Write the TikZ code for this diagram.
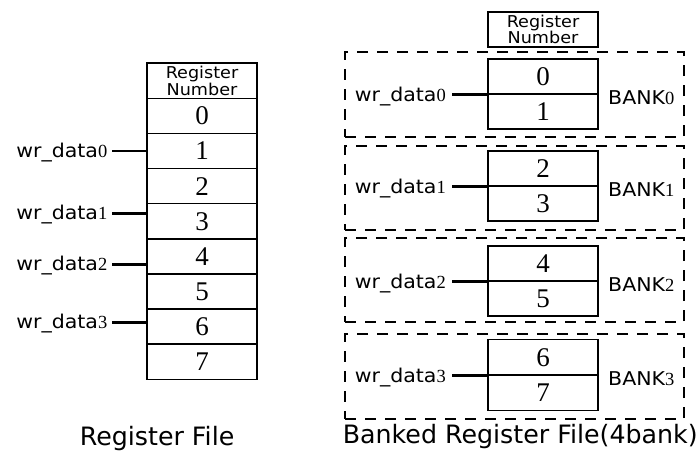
\documentclass[tikz,border=0pt]{standalone}
\usepackage{fontspec}
\setmainfont{Liberation Serif}
\newfontfamily\labf[FakeStretch=1.08]{DejaVu Sans}
\newfontfamily\titf{DejaVu Sans}
\newcommand{\wrlab}[1]{{\labf\fontsize{19}{21}\selectfont wr\_data}{\rmfamily\fontsize{18.5}{21}\selectfont #1}}
\newcommand{\banklab}[1]{{\labf\fontsize{19}{21}\selectfont BANK}{\rmfamily\fontsize{18.5}{21}\selectfont #1}}
\begin{document}
\begin{tikzpicture}[x=1pt,y=-1pt,
  cellbox/.style={draw, line width=1.5pt, minimum width=110pt, inner sep=0pt, font=\rmfamily\fontsize{27}{30}\selectfont},
  hdrbox/.style={draw, line width=1.5pt, minimum width=110pt, inner sep=0pt, align=center, font=\labf\fontsize{16.3}{15.5}\selectfont},
  bankbox/.style={draw, line width=1.5pt, dash pattern=on 11pt off 9pt, minimum width=339pt, minimum height=85pt, inner sep=0pt},
  lab/.style={inner sep=0pt},
  conn/.style={line width=2.8pt},
  ttl/.style={inner sep=0pt, font=\titf\fontsize{25.3}{28}\selectfont}]
\useasboundingbox (0,0) rectangle (697,451);
% ---------- left: register file ----------
\node[hdrbox, minimum height=35.3pt] (hL) at (202,80.65) {Register\\Number};
\foreach \i/\y in {0/115.9,1/151.0,2/186.1,3/221.3,4/256.4,5/291.5,6/326.6,7/361.8}
  \node[cellbox, minimum height=35.13pt] (r\i) at (202,\y) {\i};
\node[lab, anchor=base east] (w0) at (107.5,157.0) {\wrlab{0}};
\node[lab, anchor=base east] (w1) at (107.5,219.3) {\wrlab{1}};
\node[lab, anchor=base east] (w2) at (107.5,270.3) {\wrlab{2}};
\node[lab, anchor=base east] (w3) at (107.5,328.7) {\wrlab{3}};
\coordinate (e0) at (r1.west);
\coordinate (e1) at ([yshift=8pt]r3.west);
\coordinate (e2) at ([yshift=-7.9pt]r4.west);
\coordinate (e3) at ([yshift=3.9pt]r6.west);
\foreach \i in {0,1,2,3}
  \draw[conn] ([xshift=4.5pt]w\i.east |- e\i) -- (e\i);
\node[ttl, anchor=base west] (tL) at (79.6,445) {Register File};
% ---------- right: banked register file ----------
\node[hdrbox, minimum height=35pt] (hR) at (543,29.5) {Register\\Number};
\node[bankbox] (b0) at (514.5,94.5) {};
\node[bankbox, minimum height=84pt] (b1) at (514.5,188) {};
\node[bankbox, minimum height=84pt] (b2) at (514.5,280) {};
\node[bankbox] (b3) at (514.5,376.5) {};
\foreach \b/\ya/\yb/\h in {0/76.5/111.5/35,1/168.5/203.5/35,2/263.5/298.5/35,3/357.2/392.5/35.6}{
  \pgfmathtruncatemacro{\ta}{2*\b}
  \pgfmathtruncatemacro{\tb}{2*\b+1}
  \node[cellbox, minimum height=\h pt] (t\b) at (543,\ya) {\ta};
  \node[cellbox, minimum height=\h pt] (u\b) at (543,\yb) {\tb};
}
\foreach \b/\m in {0/94,1/186,2/281,3/375}{
  \node[lab, anchor=base east] (v\b) at (446,\m+7.5) {\wrlab{\b}};
  \draw[conn] ([xshift=6pt]v\b.east |- t\b.south west) -- (t\b.south west);
  \node[lab, anchor=base west] (k\b) at (608,\m+10.3) {\banklab{\b}};
}
\node[ttl, anchor=base west] (tR) at (342.6,443) {Banked Register File(4bank)};
\end{tikzpicture}
\end{document}
